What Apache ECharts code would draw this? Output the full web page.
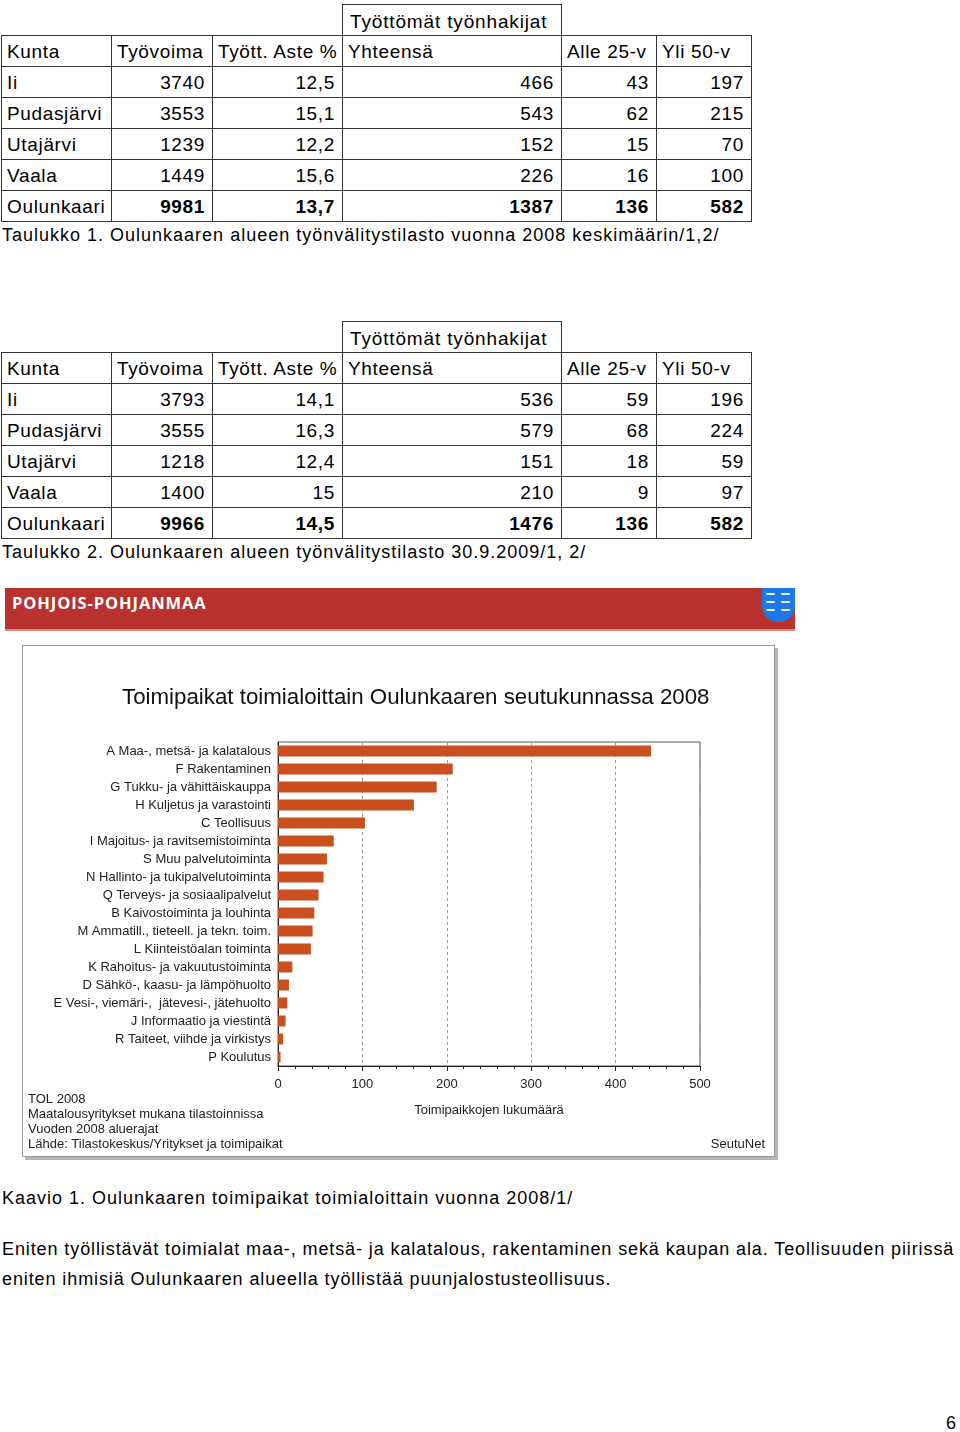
<!DOCTYPE html>
<html>
<head>
<meta charset="utf-8">
<script src="https://cdn.jsdelivr.net/npm/echarts@6/dist/echarts.min.js"></script>
<style>
  html, body { margin:0; padding:0; background:#fff; }
  body { width:960px; height:1432px; position:relative; overflow:hidden; font-family:'Liberation Sans',Arial,sans-serif; color:#000; }
  .tbl { position:absolute; width:750px; border-collapse:collapse; table-layout:fixed; font-size:19px; letter-spacing:0.65px; }
  .tbl td { border:1px solid #333; height:30px; padding:2px 6px 0 5px; white-space:nowrap; overflow:hidden; line-height:28px; box-sizing:border-box; }
  .tbl td.num { text-align:right; padding-right:7px; }
  .tbl td.b { font-weight:bold; }
  .grp { position:absolute; border:1px solid #333; font-size:19px; letter-spacing:0.85px; line-height:30px; padding-left:7px; padding-top:2px; box-sizing:border-box; }
  .cap { position:absolute; left:2px; font-size:18px; letter-spacing:1.0px; white-space:nowrap; }
  .para { letter-spacing:0.9px; }
  .banner { position:absolute; left:5px; top:588px; width:790px; height:43px; background:#b9322e; border-bottom:2px solid #d98a7e; box-sizing:border-box; }
  .banner span { position:absolute; left:7px; top:3px; color:#fff; font-family:'Open Sans','DejaVu Sans',sans-serif; font-weight:bold; font-size:16.5px; letter-spacing:0.9px; }
  .shield { position:absolute; left:757px; top:0; width:33px; height:34px; background:#1f78ea; border-radius:0 0 16px 16px; }
  .shield i { position:absolute; width:9px; height:2px; background:#e8f0ff; border-radius:1px; }
  .chartbox { position:absolute; left:22px; top:645px; width:751px; height:510px; border:1px solid #9a9a9a; box-shadow:3px 3px 0 #b5b5b5; background:#fff; }
  #chart { width:751px; height:510px; }
</style>
</head>
<body>
<div id="t1grp" class="grp" style="left:342px;top:4px;width:220px;height:32px;">Työttömät työnhakijat</div>
<table id="t1" class="tbl" style="left:1px;top:35px;"></table>
<div class="cap" style="top:225px;">Taulukko 1. Oulunkaaren alueen työnvälitystilasto vuonna 2008 keskimäärin/1,2/</div>

<div id="t2grp" class="grp" style="left:342px;top:321px;width:220px;height:32px;">Työttömät työnhakijat</div>
<table id="t2" class="tbl" style="left:1px;top:352px;"></table>
<div class="cap" style="top:542px;">Taulukko 2. Oulunkaaren alueen työnvälitystilasto 30.9.2009/1, 2/</div>

<div class="banner"><span>POHJOIS-POHJANMAA</span>
  <div class="shield">
    <i style="left:4px;top:5px"></i><i style="left:19px;top:5px"></i>
    <i style="left:4px;top:13px"></i><i style="left:19px;top:13px"></i>
    <i style="left:4px;top:21px"></i><i style="left:19px;top:21px"></i>
  </div>
</div>

<div class="chartbox"><div id="chart"></div></div>

<div class="cap" style="top:1188px;">Kaavio 1. Oulunkaaren toimipaikat toimialoittain vuonna 2008/1/</div>
<div class="cap para" style="top:1239px;">Eniten työllistävät toimialat maa-, metsä- ja kalatalous, rakentaminen sekä kaupan ala. Teollisuuden piirissä</div>
<div class="cap para" style="top:1269px;">eniten ihmisiä Oulunkaaren alueella työllistää puunjalostusteollisuus.</div>
<div class="cap" style="top:1413px;left:946px;">6</div>

<script>
// ---- Table data ----
const tableHeaders = ['Kunta', 'Työvoima', 'Tyött. Aste %', 'Yhteensä', 'Alle 25-v', 'Yli 50-v'];
const kunnat = ['Ii', 'Pudasjärvi', 'Utajärvi', 'Vaala', 'Oulunkaari'];

const t1Tyovoima = [3740, 3553, 1239, 1449, 9981];
const t1Aste = ['12,5', '15,1', '12,2', '15,6', '13,7'];
const t1Yhteensa = [466, 543, 152, 226, 1387];
const t1Alle25 = [43, 62, 15, 16, 136];
const t1Yli50 = [197, 215, 70, 100, 582];

const t2Tyovoima = [3793, 3555, 1218, 1400, 9966];
const t2Aste = ['14,1', '16,3', '12,4', '15', '14,5'];
const t2Yhteensa = [536, 579, 151, 210, 1476];
const t2Alle25 = [59, 68, 18, 9, 136];
const t2Yli50 = [196, 224, 59, 97, 582];

// ---- Chart data ----
const toimialat = [
  'A Maa-, metsä- ja kalatalous', 'F Rakentaminen', 'G Tukku- ja vähittäiskauppa',
  'H Kuljetus ja varastointi', 'C Teollisuus', 'I Majoitus- ja ravitsemistoiminta',
  'S Muu palvelutoiminta', 'N Hallinto- ja tukipalvelutoiminta', 'Q Terveys- ja sosiaalipalvelut',
  'B Kaivostoiminta ja louhinta', 'M Ammatill., tieteell. ja tekn. toim.', 'L Kiinteistöalan toiminta',
  'K Rahoitus- ja vakuutustoiminta', 'D Sähkö-, kaasu- ja lämpöhuolto', 'E Vesi-, viemäri-,  jätevesi-, jätehuolto',
  'J Informaatio ja viestintä', 'R Taiteet, viihde ja virkistys', 'P Koulutus'
];
const toimipaikat = [442, 207, 188, 161, 103, 66, 58, 54, 48, 43, 41, 39, 17, 13, 11, 9, 6, 3];
const chartNotes = ['TOL 2008', 'Maatalousyritykset mukana tilastoinnissa', 'Vuoden 2008 aluerajat', 'Lähde: Tilastokeskus/Yritykset ja toimipaikat'];

const colWidths = [110, 101, 130, 219, 95, 95];

function buildTable(id, cols) {
  const t = document.getElementById(id);
  let html = '<colgroup>' + colWidths.map(w => '<col style="width:' + w + 'px">').join('') + '</colgroup>';
  html += '<tr>' + tableHeaders.map(h => '<td>' + h + '</td>').join('') + '</tr>';
  kunnat.forEach((k, i) => {
    const bold = i === kunnat.length - 1 ? ' b' : '';
    html += '<tr><td>' + k + '</td>' + cols.map(c => '<td class="num' + bold + '">' + c[i] + '</td>').join('') + '</tr>';
  });
  t.innerHTML = html;
}
buildTable('t1', [t1Tyovoima, t1Aste, t1Yhteensa, t1Alle25, t1Yli50]);
buildTable('t2', [t2Tyovoima, t2Aste, t2Yhteensa, t2Alle25, t2Yli50]);

const chart = echarts.init(document.getElementById('chart'), null, { renderer: 'canvas' });
const txt = '#222';
const ff = 'Liberation Sans, Arial, sans-serif';
chart.setOption({
  animation: false,
  textStyle: { fontFamily: ff },
  title: {
    text: 'Toimipaikat toimialoittain Oulunkaaren seutukunnassa 2008',
    left: 94, top: 36,
    textStyle: { fontSize: 22.3, fontWeight: 'normal', color: '#111', fontFamily: ff }
  },
  grid: { left: 255, right: 74, top: 96, bottom: 90, show: true, borderColor: '#555', borderWidth: 1 },
  xAxis: {
    type: 'value', min: 0, max: 500, interval: 100,
    name: 'Toimipaikkojen lukumäärä', nameLocation: 'middle', nameGap: 38,
    nameTextStyle: { fontSize: 13, color: txt },
    axisLine: { show: true, lineStyle: { color: '#222', width: 1 } },
    axisTick: { show: true, length: 5, lineStyle: { color: '#222' } },
    minorTick: { show: true, splitNumber: 5, length: 3, lineStyle: { color: '#222' } },
    axisLabel: { fontSize: 13, color: txt, margin: 12 },
    splitLine: { show: true, lineStyle: { color: '#9a9a9a', type: [3, 3] } }
  },
  yAxis: {
    type: 'category', data: toimialat, inverse: true,
    axisLine: { show: true, lineStyle: { color: '#222' } },
    axisTick: { show: false },
    axisLabel: { fontSize: 13, color: txt, margin: 7 }
  },
  series: [{
    type: 'bar', data: toimipaikat, barWidth: 11,
    itemStyle: { color: '#c94f1f' }
  }],
  graphic: [
    ...chartNotes.map((n, i) => ({
      type: 'text', left: 5, top: 447 + i * 15,
      style: { text: n, fontSize: 13, fill: txt, fontFamily: ff }
    })),
    { type: 'text', right: 9, top: 492, style: { text: 'SeutuNet', fontSize: 13, fill: txt, fontFamily: ff } }
  ]
});
</script>
</body>
</html>
